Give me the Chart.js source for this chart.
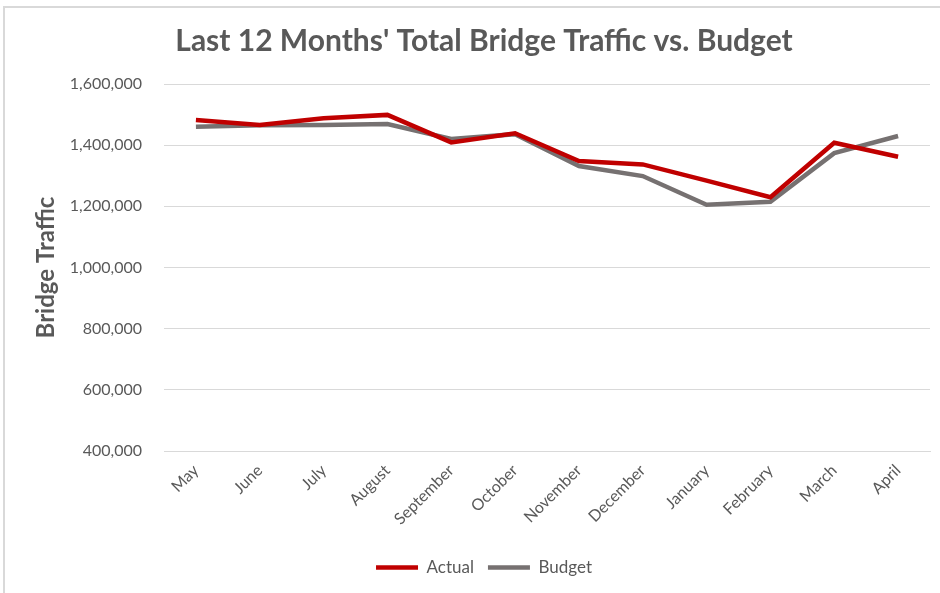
<!DOCTYPE html>
<html>
<head>
<meta charset="utf-8">
<script src="https://cdn.jsdelivr.net/npm/chart.js@4"></script>
<style>
html,body{margin:0;padding:0;background:#fff;overflow:hidden;}
#wrap{position:relative;width:940px;height:593px;}
#frame{position:absolute;left:3px;top:6px;right:-5px;bottom:-5px;border-left:2px solid #d9d9d9;border-top:2px solid #d9d9d9;}
canvas{position:absolute;left:0;top:0;}
</style>
</head>
<body>
<div id="wrap"><div id="frame"></div><canvas id="c" width="940" height="593"></canvas></div>
<script>
const months = ["May","June","July","August","September","October","November","December","January","February","March","April"];
const actual = [1482000,1466000,1488000,1499000,1409000,1439000,1348000,1337000,1284000,1230000,1408000,1362000];
const budget = [1460000,1465000,1466000,1469000,1420000,1436000,1332000,1299000,1205000,1215000,1374000,1430000];
const titleText = "Last 12 Months' Total Bridge Traffic vs. Budget";
const yTitle = "Bridge Traffic";

const txt = '#595959';
const fam = 'Lato, "DejaVu Sans", sans-serif';

new Chart(document.getElementById('c'), {
  type: 'line',
  data: {
    labels: months,
    datasets: [
      {label: 'Actual', data: actual, borderColor: '#C00000', backgroundColor: '#C00000', borderWidth: 4.5, pointRadius: 0, tension: 0, pointStyle: 'line'},
      {label: 'Budget', data: budget, borderColor: '#767171', backgroundColor: '#767171', borderWidth: 4.5, pointRadius: 0, tension: 0, pointStyle: 'line'}
    ]
  },
  options: {
    responsive: false,
    animation: false,
    layout: {padding: {left: 38, right: 10, top: 0, bottom: 7}},
    plugins: {
      title: {display: true, text: titleText, color: txt, font: {family: fam, size: 30, weight: 'bold'}, padding: {top: 23, bottom: 25}},
      legend: {
        position: 'bottom',
        labels: {color: txt, font: {family: fam, size: 17}, usePointStyle: true, pointStyle: 'line', pointStyleWidth: 42, boxHeight: 4, padding: 14}
      },
      tooltip: {enabled: false}
    },
    scales: {
      x: {
        offset: true,
        grid: {display: false, drawTicks: false},
        border: {display: true, color: '#d9d9d9'},
        ticks: {color: txt, font: {family: fam, size: 16}, minRotation: 45, maxRotation: 45, padding: 10, autoSkip: false},
        afterFit: s => { s.height = 94; }
      },
      y: {
        min: 400000, max: 1600000,
        grid: {color: '#d9d9d9', drawTicks: false},
        border: {display: false},
        ticks: {stepSize: 200000, color: txt, font: {family: fam, size: 16}, padding: 22,
          callback: v => v.toLocaleString('en-US')},
        title: {display: true, text: yTitle, color: txt, font: {family: fam, size: 24, weight: 'bold'}, padding: {top: -6, bottom: 0}},
        afterFit: s => { s.width = 126; }
      }
    }
  }
});
</script>
</body>
</html>
